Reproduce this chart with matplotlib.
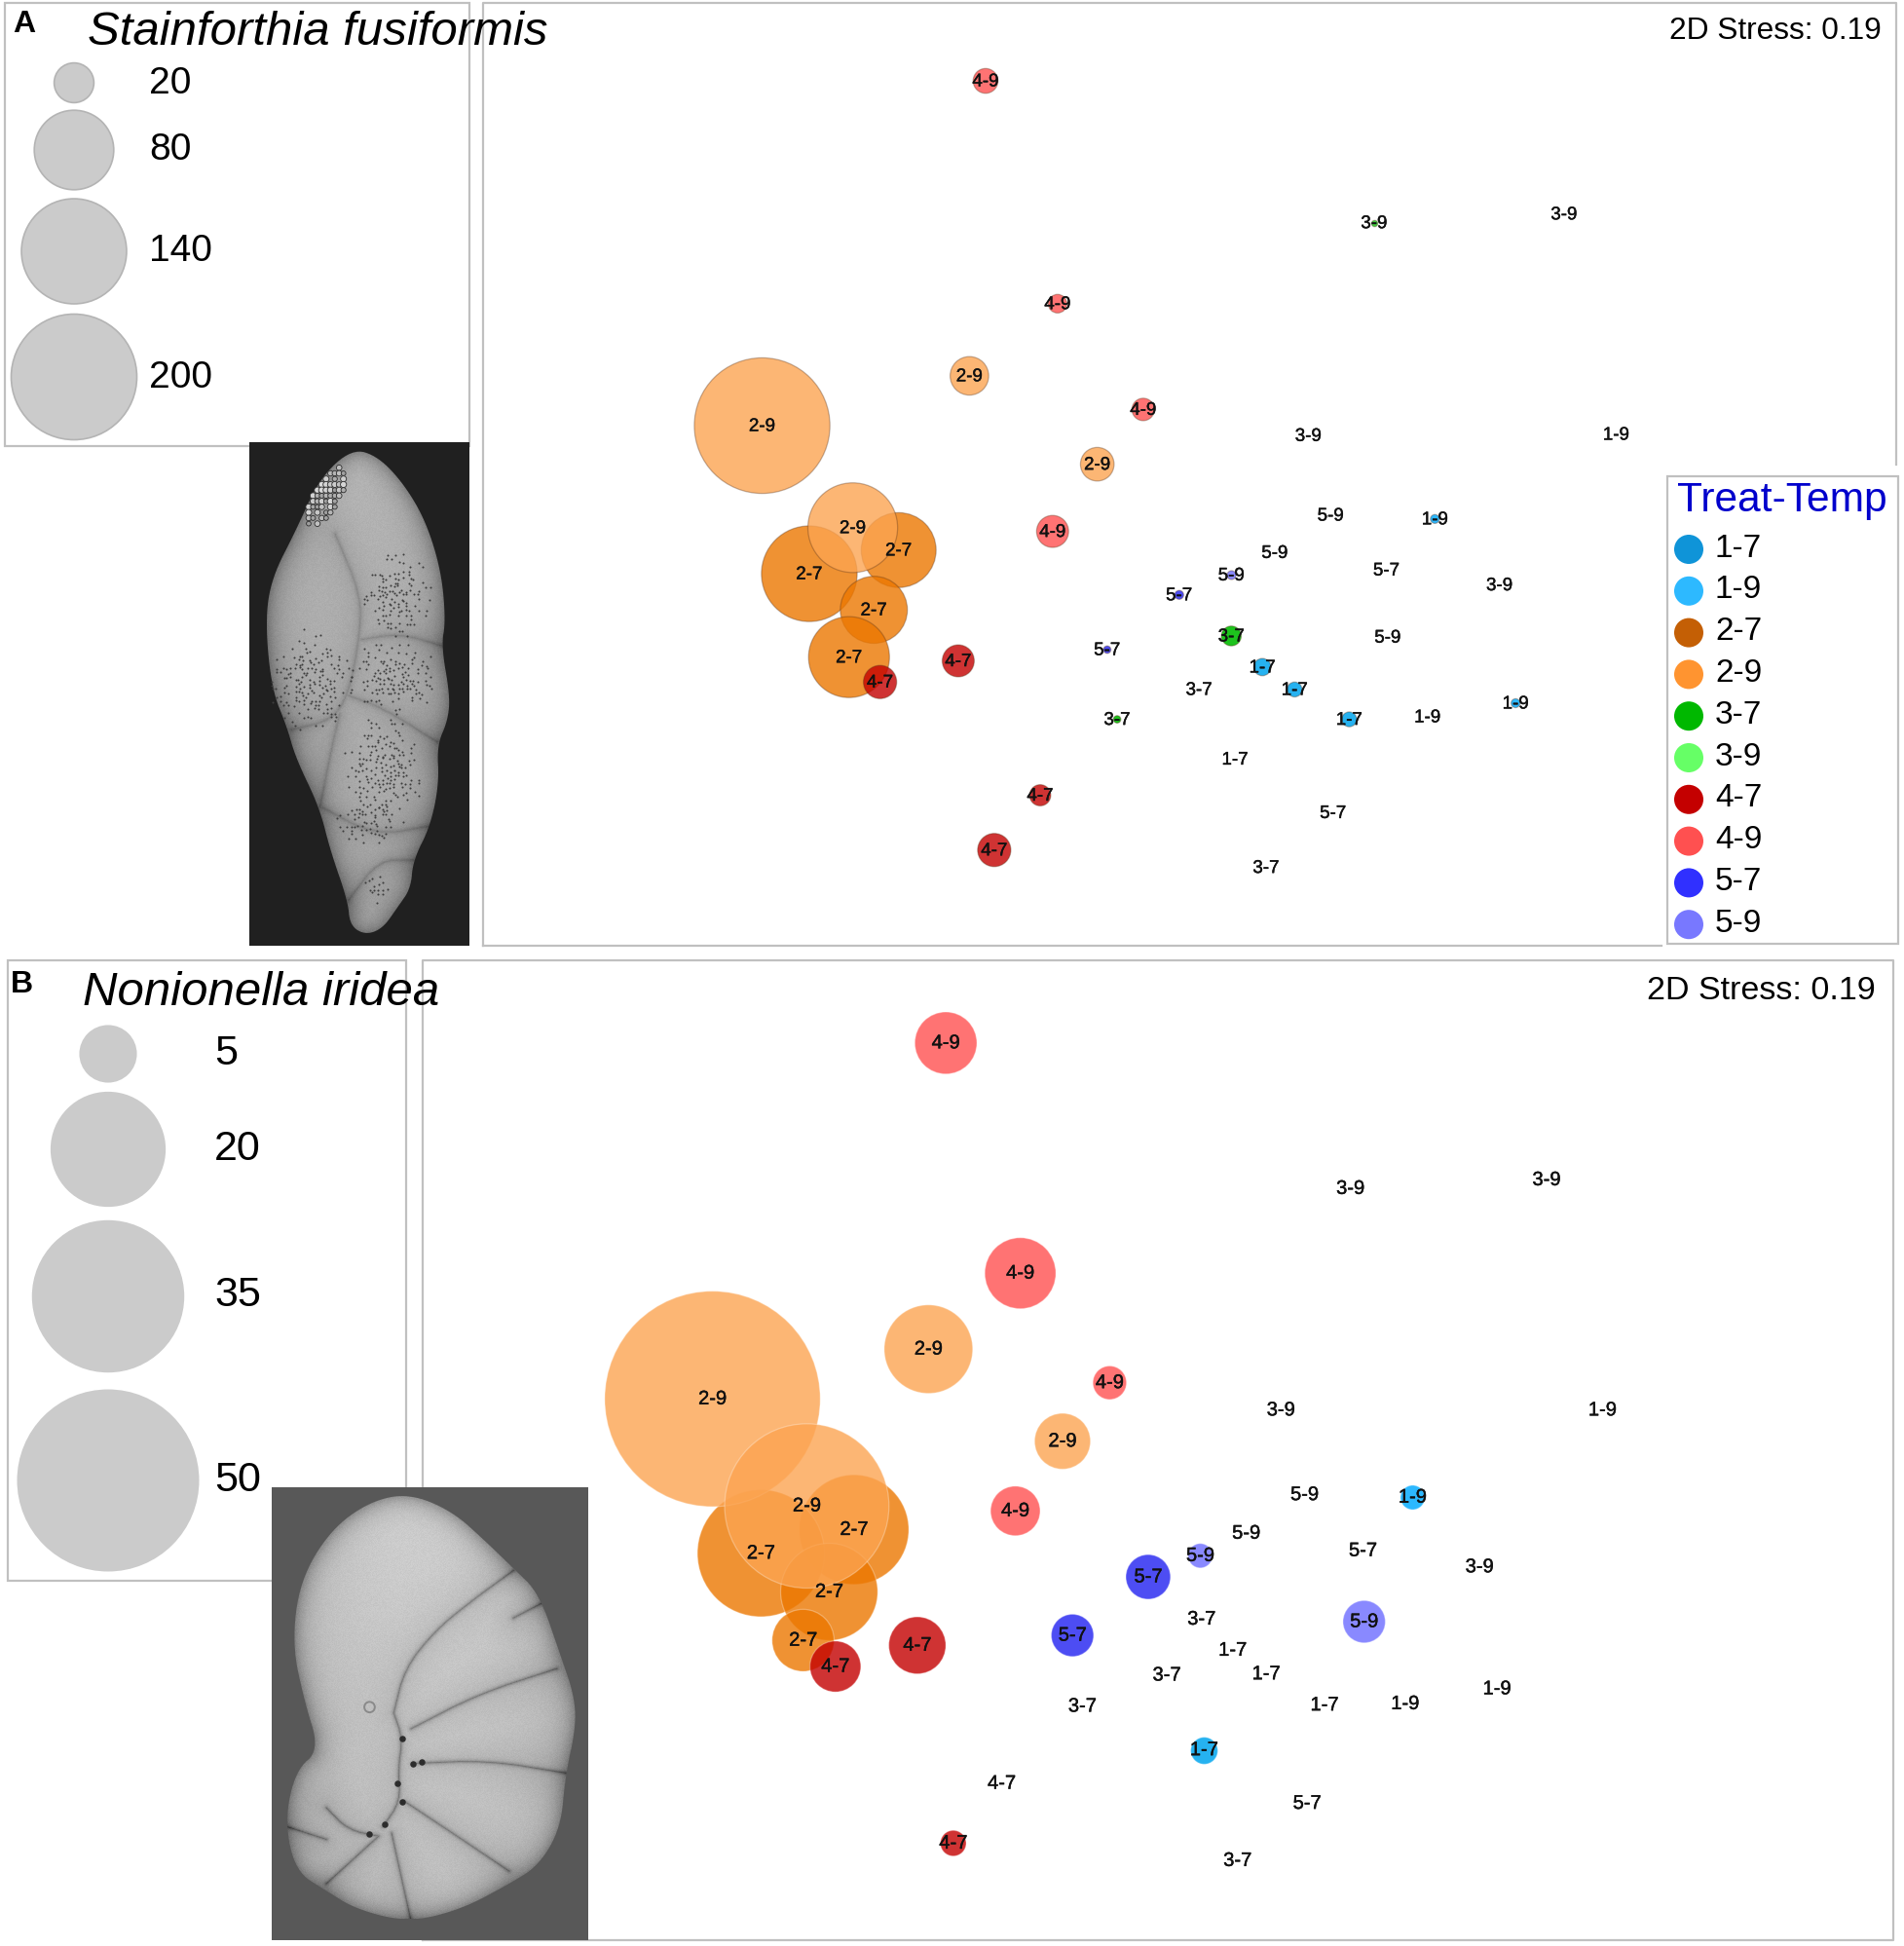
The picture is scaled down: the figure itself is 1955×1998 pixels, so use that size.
import numpy as np
import matplotlib
matplotlib.use("Agg")
import matplotlib.pyplot as plt
import matplotlib.patheffects as pe
from matplotlib.colors import to_rgba
from matplotlib.patches import Polygon, Circle, Rectangle

plt.rcParams['font.family'] = ['Liberation Sans', 'DejaVu Sans']

W, H = 1955, 1998
KX, KY = 1.2745, 1.2778  # MDS coordinates below are in plot units, this maps them to pixels

treatments = ['1-7', '1-9', '2-7', '2-9', '3-7', '3-9', '4-7', '4-9', '5-7', '5-9']
legend_colors = ['#0f94d8', '#2db9ff', '#c45f05', '#ff9430', '#00b800',
                 '#66ff66', '#c40000', '#ff5050', '#3030ff', '#7878ff']
bubble_colors = {'1-7': '#1aaef0', '1-9': '#20b4ff', '2-7': '#ec7700', '2-9': '#fca451',
                 '3-7': '#10c010', '3-9': '#33cc33', '4-7': '#c40000', '4-9': '#ff5050',
                 '5-7': '#2020f0', '5-9': '#6c6cff'}

# Panel A, Stainforthia fusiformis
a_labels = ['4-9', '3-9', '3-9', '4-9', '2-9', '2-9', '4-9', '3-9', '1-9', '2-9',
            '5-9', '1-9', '2-7', '2-7', '2-9', '4-9', '5-9', '5-9', '5-7', '3-9',
            '5-7', '2-7', '3-7', '5-9', '5-7', '2-7', '4-7', '4-7', '1-7', '1-7',
            '3-7', '1-7', '1-9', '1-9', '3-7', '1-7', '4-7', '5-7', '4-7', '3-7']
a_x = [794, 1107, 1260, 852, 781, 614, 921, 1054, 1302, 884,
       1072, 1156, 724, 652, 687, 848, 1027, 992, 1117, 1208,
       950, 704, 992, 1118, 892, 684, 772, 709, 1017, 1043,
       966, 1087, 1150, 1221, 900, 995, 838, 1074, 801, 1020]
a_y = [65, 179, 172, 244, 302, 342, 329, 350, 349, 373,
       414, 417, 442, 461, 424, 427, 444, 462, 458, 470,
       478, 490, 511, 512, 522, 528, 531, 548, 536, 554,
       554, 578, 576, 565, 578, 610, 639, 653, 683, 697]
a_abund = [7.8, 0.5, 0, 4.4, 18.8, 233, 6.4, 0, 0, 14.3,
           0, 1, 71, 116, 102, 13, 0, 1, 0, 0,
           1, 57, 5, 0, 0.7, 83, 13, 14, 3.8, 2.8,
           0, 2.8, 0, 1, 0.7, 0, 5.7, 0, 14, 0]

# Panel B, Nonionella iridea
b_labels = ['4-9', '3-9', '3-9', '4-9', '2-9', '2-9', '4-9', '3-9', '1-9', '2-9',
            '5-9', '1-9', '2-7', '2-7', '2-7', '2-7', '2-9', '4-9', '5-9', '5-9',
            '5-7', '3-9', '5-7', '3-7', '5-9', '5-7', '4-7', '4-7', '1-7', '3-7',
            '1-7', '1-7', '1-9', '1-9', '3-7', '1-7', '4-7', '5-7', '4-7', '3-7']
b_x = [762, 1088, 1246, 822, 748, 574, 894, 1032, 1291, 856,
       1051, 1138, 688, 613, 668, 647, 650, 818, 1004, 967,
       1098, 1192, 925, 968, 1099, 864, 739, 673, 993, 940,
       1020, 1067, 1132, 1206, 872, 970, 807, 1053, 768, 997]
b_y = [840, 957, 950, 1025, 1086, 1126, 1113, 1135, 1135, 1160,
       1203, 1205, 1231, 1250, 1281, 1320, 1212, 1216, 1234, 1252,
       1248, 1261, 1269, 1303, 1305, 1316, 1324, 1341, 1328, 1348,
       1347, 1372, 1371, 1359, 1373, 1408, 1435, 1451, 1483, 1497]
b_abund = [5.8, 0, 0, 7.6, 11.8, 70, 1.7, 0, 0, 4.7,
           0, 0.9, 18.1, 24.3, 14.2, 5.8, 40.7, 3.7, 0, 0.9,
           0, 0, 3, 0, 2.7, 2.7, 4.9, 3.9, 0, 0,
           0, 0, 0, 0, 0, 1.1, 0, 0, 1, 0]

# size keys
a_key_values = [20, 80, 140, 200]
b_key_values = [5, 20, 35, 50]
a_d200 = 129  # px diameter of the 200 key circle
b_d50 = 187   # px diameter of the 50 key circle

FRAME = '#c0c0c0'
KEYGREY = '#cbcbcb'


def px_to_s(d_px):
    # scatter size from a diameter in pixels (dpi 100)
    return (np.asarray(d_px) * 0.72) ** 2


def frame(ax, x0, y0, x1, y1):
    ax.add_patch(Rectangle((x0, y0), x1 - x0, y1 - y0, fill=False, ec=FRAME, lw=1.6, zorder=0.5))


def chaikin(pts, closed=False, n=3):
    pts = np.asarray(pts, float)
    for _ in range(n):
        if closed:
            a, b = pts, np.roll(pts, -1, axis=0)
            pts = np.column_stack([0.75 * a + 0.25 * b, 0.25 * a + 0.75 * b]).reshape(-1, 2)
        else:
            a, b = pts[:-1], pts[1:]
            mid = np.column_stack([0.75 * a + 0.25 * b, 0.25 * a + 0.75 * b]).reshape(-1, 2)
            pts = np.vstack([pts[0], mid, pts[-1]])
    return pts


def dist_to_line(xx, yy, line):
    best = np.full(xx.shape, 1e9)
    for (x0, y0), (x1, y1) in zip(line[:-1], line[1:]):
        dx, dy = x1 - x0, y1 - y0
        t = np.clip(((xx - x0) * dx + (yy - y0) * dy) / max(dx * dx + dy * dy, 1e-6), 0, 1)
        best = np.minimum(best, np.hypot(xx - x0 - t * dx, yy - y0 - t * dy))
    return best


def draw_shell(ax, outline, sutures, base, edge_dark, crease, width):
    outline = chaikin(outline, closed=True)
    sutures = [chaikin(s, n=2) for s in sutures]
    xmin, ymin = outline.min(axis=0)
    xmax, ymax = outline.max(axis=0)
    yy, xx = np.mgrid[ymin:ymax:1.0, xmin:xmax:1.0]
    u, v = (xx - xmin) / (xmax - xmin), (yy - ymin) / (ymax - ymin)
    d_out = dist_to_line(xx, yy, np.vstack([outline, outline[:1]]))
    d_sut = np.min([dist_to_line(xx, yy, s) for s in sutures], axis=0)
    shade = base(u, v) * (1 - edge_dark * np.exp(-d_out / 11))
    shade += 0.07 * (1 - np.exp(-d_sut / 22)) - crease * np.exp(-d_sut / width)
    # surface grain
    shade += 0.035 * (((np.sin(xx * 12.9 + yy * 78.2) * 43758.5) % 1) - 0.5)
    poly = Polygon(outline, closed=True, fc='none', ec='none', zorder=2)
    ax.add_patch(poly)
    im = ax.imshow(shade, extent=(xmin, xmax, ymax, ymin), cmap='gray', vmin=0, vmax=1,
                   aspect='auto', zorder=2, interpolation='bilinear')
    im.set_clip_path(poly)
    ax.set_xlim(0, W)
    ax.set_ylim(H, 0)


def to_a(pts):
    pts = np.array(pts, float)
    return pts / [2.24, 1.568]


def to_b(pts):
    pts = np.array(pts, float) / [2.24, 1.54]
    return pts + [0, 980]


def shell_a(ax):
    ax.add_patch(Rectangle((256, 454), 226, 517, fc='#202020', ec='none', zorder=1.5))
    outline = to_a([(810, 722), (870, 735), (930, 780), (980, 840), (1015, 920), (1025, 1000),
                    (1015, 1040), (1035, 1120), (1030, 1160), (1005, 1200), (1010, 1260),
                    (990, 1330), (950, 1385), (945, 1430), (915, 1460), (880, 1495), (840, 1505),
                    (805, 1490), (800, 1450), (760, 1370), (735, 1300), (680, 1220), (660, 1170),
                    (625, 1110), (610, 1000), (625, 930), (680, 855), (735, 770)])
    sut = [[(770, 860), (830, 960), (825, 1030), (800, 1120), (760, 1160), (670, 1175)],
           [(830, 1030), (920, 1020), (1015, 1040)],
           [(800, 1120), (880, 1140), (1005, 1195)],
           [(735, 1300), (760, 1210), (780, 1150)],
           [(740, 1300), (860, 1345), (990, 1330)],
           [(800, 1450), (870, 1385), (950, 1385)]]
    draw_shell(ax, outline, [to_a(s) for s in sut],
               lambda u, v: 0.60 + 0.05 * np.sin(np.pi * u) - 0.05 * v, 0.34, 0.10, 2.0)
    # pores on a jittered lattice, thinning out to the patch edge
    for cx, cy, rx, ry in [(715, 1095, 100, 85), (910, 960, 85, 75), (900, 1090, 110, 60),
                           (880, 1235, 100, 85), (850, 1325, 80, 35), (870, 1430, 35, 25)]:
        gx, gy = np.meshgrid(np.arange(cx - rx, cx + rx, 9.0), np.arange(cy - ry, cy + ry, 6.5))
        h1 = (np.sin(gx * 12.9 + gy * 78.2) * 43758.5) % 1
        h2 = (np.sin(gx * 39.3 + gy * 11.1) * 24634.6) % 1
        gx = gx + 8 * (h1 - 0.5)
        gy = gy + 6 * (h2 - 0.5)
        r2 = ((gx - cx) / rx) ** 2 + ((gy - cy) / ry) ** 2
        keep = (r2 < 1) & (h1 * h2 > 0.05 + 0.55 * r2)
        ax.scatter(gx[keep] / 2.24, gy[keep] / 1.568, s=2.2, color='#3e3e3e', lw=0, zorder=3)
    # rough patch near the aperture
    gx, gy = np.meshgrid(np.arange(680, 830, 10.0), np.arange(735, 865, 9.0))
    h1 = (np.sin(gx * 21.7 + gy * 51.3) * 31421.9) % 1
    along = (gx - 750) * 90 - (gy - 800) * 95
    across = (gx - 750) * 95 + (gy - 800) * 90
    keep = (np.abs(across) < 3600 - 2200 * (along / 7800) ** 2) & (np.abs(along) < 7800) & (h1 > 0.2)
    ax.scatter(gx[keep] / 2.24, gy[keep] / 1.568, s=9 + 12 * h1[keep], c=0.55 + 0.3 * h1[keep],
               cmap='gray', vmin=0, vmax=1, edgecolors='#2e2e2e', linewidths=0.6, zorder=3)


def shell_b(ax):
    ax.add_patch(Rectangle((279, 1527), 325, 465, fc='#585858', ec='none', zorder=1.5))
    outline = to_b([(940, 852), (1040, 880), (1120, 930), (1180, 970), (1240, 1010), (1290, 1110),
                    (1320, 1170), (1325, 1220), (1300, 1300), (1290, 1380), (1240, 1440),
                    (1170, 1470), (1060, 1510), (940, 1530), (820, 1510), (750, 1480), (680, 1450),
                    (655, 1370), (680, 1290), (735, 1258), (700, 1180), (672, 1090), (690, 990),
                    (760, 910), (850, 865)])
    sut = [[(905, 1200), (930, 1130), (1000, 1070), (1080, 1025), (1180, 975)],
           [(945, 1225), (1100, 1170), (1280, 1130)],
           [(950, 1280), (1120, 1275), (1300, 1295)],
           [(930, 1340), (1040, 1390), (1170, 1450)],
           [(900, 1390), (945, 1530)],
           [(870, 1395), (750, 1470)],
           [(750, 1350), (800, 1385), (870, 1395)],
           [(660, 1380), (750, 1400)],
           [(905, 1200), (925, 1240), (915, 1290), (920, 1340), (880, 1380)],
           [(1180, 1050), (1250, 1025)]]
    draw_shell(ax, outline, [to_b(s) for s in sut],
               lambda u, v: 0.68 + 0.06 * np.sin(np.pi * u) - 0.05 * v, 0.34, 0.24, 1.6)
    pits = to_b([(925, 1240), (950, 1280), (915, 1310), (925, 1340), (885, 1375), (850, 1390), (970, 1277)])
    ax.scatter(pits[:, 0], pits[:, 1], s=22, color='#2c2c2c', lw=0, zorder=3)
    blob = to_b([(850, 1190)])
    ax.scatter(blob[:, 0], blob[:, 1], s=60, facecolor='none', ec='#8a8a8a', lw=1.4, zorder=3)


def panel(fig, box, labels, xs, ys, abund, d_ref, v_ref, fsize, edge, dy=0, text_dy=0):
    x0, y0, x1, y1 = box
    ax = fig.add_axes([x0 / W, 1 - y1 / H, (x1 - x0) / W, (y1 - y0) / H])
    ax.set_xlim(x0 / KX, x1 / KX)
    ax.set_ylim((y1 + dy) / KY, (y0 + dy) / KY)
    ax.axis('off')
    ax.patch.set_alpha(0)
    labels = np.array(labels)
    xs, ys, abund = np.array(xs), np.array(ys), np.array(abund, float)
    d = d_ref * np.sqrt(abund / v_ref)
    keep = abund > 0
    for t in treatments:
        m = (labels == t) & keep
        alpha = 0.95 if t in ('1-7', '1-9', '3-7', '3-9') else 0.8
        ax.scatter(xs[m], ys[m], s=px_to_s(d[m]), facecolors=[to_rgba(bubble_colors[t], alpha)],
                   edgecolors=[edge], linewidths=0.9, zorder=2 + treatments.index(t) * 0.01)
    for x, y, lab in zip(xs, ys, labels):
        ax.text(x, y + text_dy, lab, fontsize=fsize, ha='center', va='center', color='#111111', zorder=5,
                path_effects=[pe.withStroke(linewidth=0.3, foreground='#111111')])
    return ax


fig = plt.figure(figsize=(W / 100, H / 100), dpi=100, facecolor='white')
bg = fig.add_axes([0, 0, 1, 1])
bg.set_xlim(0, W)
bg.set_ylim(H, 0)
bg.axis('off')

# frames
frame(bg, 5, 3, 482, 458)
bg.plot([496, 496, 1947, 1947], [971, 3, 3, 477], color=FRAME, lw=1.6, zorder=0.5)
bg.plot([496, 1706], [971, 971], color=FRAME, lw=1.6, zorder=0.5)
frame(bg, 1712, 489, 1949, 969)
frame(bg, 8, 986, 417, 1623)
bg.plot([434, 434, 1944, 1944, 434], [1992, 986, 986, 1992, 1992], color=FRAME, lw=1.6, zorder=0.5)

shell_a(bg)
shell_b(bg)

# size keys
a_key_y = [85, 154, 258, 387]
a_txt_y = [86, 154, 258, 388]
for v, cy, ty in zip(a_key_values, a_key_y, a_txt_y):
    d = a_d200 * np.sqrt(v / 200)
    bg.add_patch(Circle((76, cy), d / 2, fc=KEYGREY, ec='#b4b4b4', lw=1.2, zorder=4))
    bg.text(153, ty, str(v), fontsize=28, ha='left', va='center', zorder=6)

b_key_y = [1082, 1180, 1331, 1520]
b_txt_y = [1082, 1180, 1330, 1520]
for v, cy, ty in zip(b_key_values, b_key_y, b_txt_y):
    d = b_d50 * np.sqrt(v / 50)
    bg.add_patch(Circle((111, cy), d / 2, fc=KEYGREY, ec='none', zorder=4))
    bg.text(220, ty, str(v), fontsize=31, ha='left', va='center', zorder=6)

panel(fig, (496, 3, 1947, 971), a_labels, a_x, a_y, a_abund, a_d200, 200, 13.5,
      (0.35, 0.2, 0.1, 0.35), text_dy=0.8)
panel(fig, (434, 986, 1944, 1992), b_labels, b_x, b_y, b_abund, b_d50, 50, 14.5,
      (1, 1, 1, 0.3), dy=2.5)

# texts on top
top = fig.add_axes([0, 0, 1, 1])
top.set_xlim(0, W)
top.set_ylim(H, 0)
top.axis('off')
top.patch.set_alpha(0)
top.text(13, 25, 'A', fontsize=23, fontweight='bold', ha='left', va='center')
top.text(11, 1011, 'B', fontsize=23, fontweight='bold', ha='left', va='center')
top.text(90, 33, 'Stainforthia fusiformis', fontsize=35.4, fontstyle='italic', ha='left', va='center')
top.text(85, 1020, 'Nonionella iridea', fontsize=35.4, fontstyle='italic', ha='left', va='center')
top.text(1932, 32, '2D Stress: 0.19', fontsize=22.8, ha='right', va='center')
top.text(1926, 1018, '2D Stress: 0.19', fontsize=24.5, ha='right', va='center')

# colour legend
top.text(1830, 514, 'Treat-Temp', fontsize=30.6, color='#0000cc', ha='center', va='center')
leg_y = 564 + 42.8 * np.arange(len(treatments))
top.scatter(np.full(len(treatments), 1734), leg_y, s=px_to_s(30), c=legend_colors, lw=0)
for t, y in zip(treatments, leg_y):
    top.text(1761, y - 1, t, fontsize=24, ha='left', va='center')

fig.savefig('out.png', dpi=100)
